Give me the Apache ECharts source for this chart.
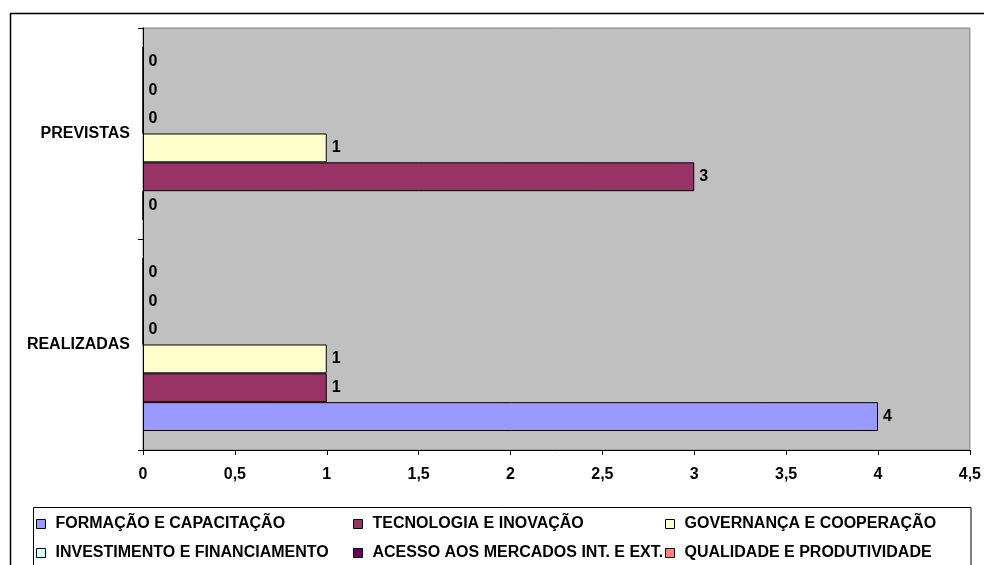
<!DOCTYPE html>
<html>
<head>
<meta charset="utf-8">
<script src="https://cdn.jsdelivr.net/npm/echarts@6/dist/echarts.min.js"></script>
<style>
html,body{margin:0;padding:0;background:#fff;}
#chart{width:984px;height:565px;}
</style>
</head>
<body>
<div id="chart"></div>
<script>
var categories = ['REALIZADAS', 'PREVISTAS'];
var seriesNames = [
  'FORMAÇÃO E CAPACITAÇÃO',
  'TECNOLOGIA E INOVAÇÃO',
  'GOVERNANÇA E COOPERAÇÃO',
  'INVESTIMENTO E FINANCIAMENTO',
  'ACESSO AOS MERCADOS INT. E EXT.',
  'QUALIDADE E PRODUTIVIDADE'
];
var formacao = [4, 0];
var tecnologia = [1, 3];
var governanca = [1, 1];
var investimento = [0, 0];
var acesso = [0, 0];
var qualidade = [0, 0];
var seriesValues = [formacao, tecnologia, governanca, investimento, acesso, qualidade];
var colors = ['#9999FF', '#993366', '#FFFFCC', '#CCFFFF', '#660066', '#FF8080'];
var xTicks = {min: 0, max: 4.5, interval: 0.5};

var font = '"Liberation Sans", Arial, sans-serif';
var fs = 16;
var chart = echarts.init(document.getElementById('chart'), null, {renderer: 'canvas'});

var series = [];
for (var i = seriesNames.length - 1; i >= 0; i--) {
  series.push({
    name: seriesNames[i],
    type: 'bar',
    data: seriesValues[i],
    barGap: '0%',
    barCategoryGap: '18%',
    itemStyle: {color: colors[i], borderColor: '#000', borderWidth: 1},
    label: {
      show: true, position: 'right', distance: 5,
      color: '#000', fontWeight: 'bold', fontSize: fs, fontFamily: font
    },
    emphasis: {disabled: true},
    animation: false
  });
}

var legendPos = [
  {left: 36, top: 516}, {left: 353, top: 516}, {left: 665, top: 516},
  {left: 36, top: 545}, {left: 353, top: 545}, {left: 665, top: 545}
];
var legends = seriesNames.map(function (n, i) {
  return {
    data: [n],
    left: legendPos[i].left,
    top: legendPos[i].top,
    padding: 0,
    icon: 'rect',
    itemWidth: 9,
    itemHeight: 9,
    itemStyle: {borderColor: '#000', borderWidth: 1},
    selectedMode: false,
    textStyle: {color: '#000', fontWeight: 'bold', fontSize: fs, fontFamily: font, padding: [0, 0, 0, 5]}
  };
});

chart.setOption({
  animation: false,
  backgroundColor: '#fff',
  grid: {
    left: 143, top: 28, right: 14, bottom: 115,
    show: true, backgroundColor: '#C0C0C0', borderColor: '#808080', borderWidth: 1
  },
  xAxis: {
    type: 'value',
    min: xTicks.min, max: xTicks.max, interval: xTicks.interval,
    axisLine: {show: true, lineStyle: {color: '#000', width: 1}},
    axisTick: {show: true, inside: false, length: 5, lineStyle: {color: '#000'}},
    splitLine: {show: false},
    axisLabel: {
      margin: 17, color: '#000', fontWeight: 'bold', fontSize: fs, fontFamily: font,
      formatter: function (v) { return String(v).replace('.', ','); }
    }
  },
  yAxis: {
    type: 'category',
    data: categories,
    axisLine: {show: true, lineStyle: {color: '#000', width: 1}},
    axisTick: {show: true, inside: false, length: 5, lineStyle: {color: '#000'}},
    splitLine: {show: false},
    axisLabel: {margin: 13, color: '#000', fontWeight: 'bold', fontSize: fs, fontFamily: font}
  },
  legend: legends,
  graphic: [
    {type: 'polyline', silent: true, z: 100,
      shape: {points: [[10.5, 570], [10.5, 13.5], [990, 13.5]]},
      style: {stroke: '#000', lineWidth: 1.5, fill: null}},
    {type: 'rect', silent: true, z: 100,
      shape: {x: 33.5, y: 507.5, width: 937.5, height: 100},
      style: {stroke: '#000', lineWidth: 1, fill: null}}
  ],
  series: series
});
</script>
</body>
</html>
